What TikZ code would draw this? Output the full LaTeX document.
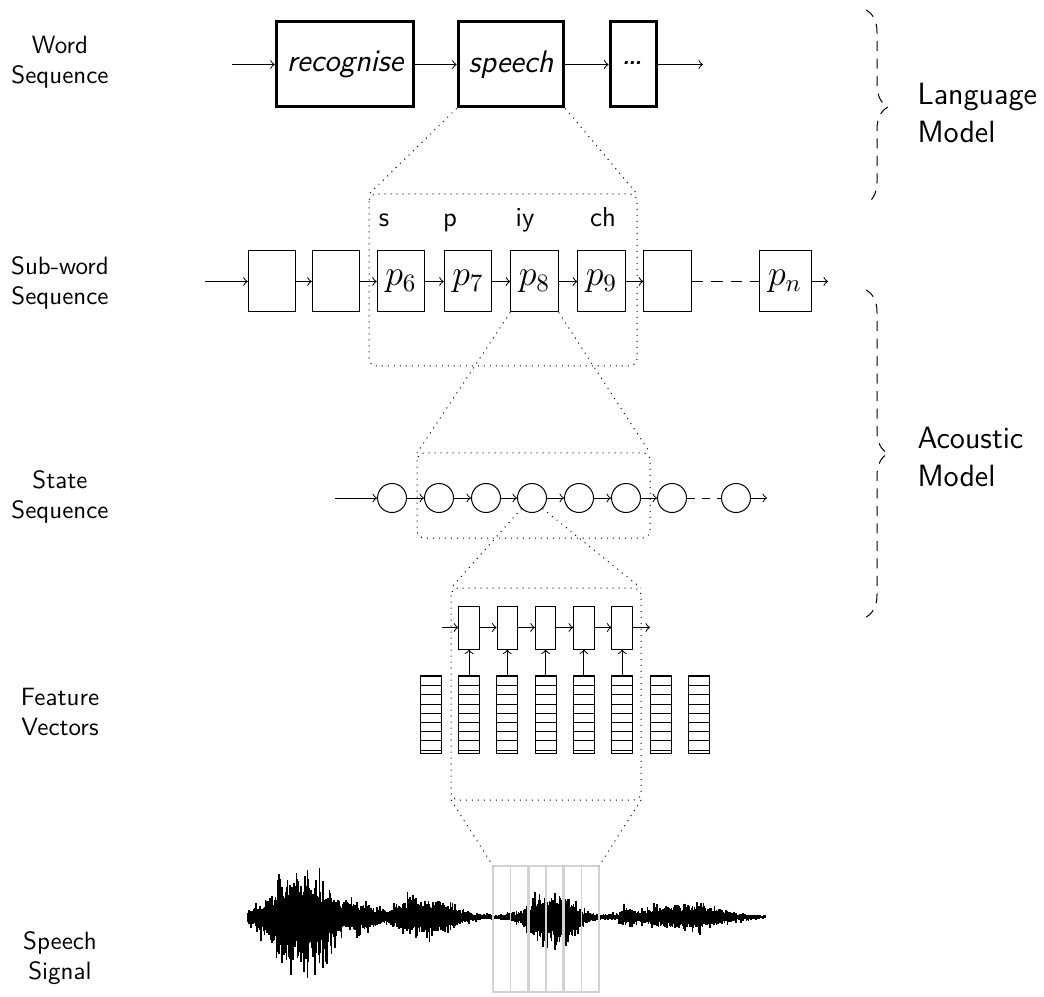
\documentclass[tikz,border=0pt]{standalone}
\usetikzlibrary{decorations.pathreplacing,calc}
\begin{document}
\begin{tikzpicture}[x=0.4pt,y=-0.4pt, font=\sffamily, >=to,
  wordbox/.style={draw, very thick, minimum height=34pt, inner xsep=4.2pt, font=\sffamily\fontsize{12.5}{15}\selectfont\itshape},
  subbox/.style={draw, minimum width=19pt, minimum height=24.4pt, inner sep=0pt, font=\Large},
  statenode/.style={draw, circle, minimum size=11.6pt, inner sep=0pt},
  cellbox/.style={draw, minimum width=8.2pt, minimum height=17.2pt, inner sep=0pt},
  fvec/.style={draw, minimum width=8.4pt, minimum height=31.2pt, inner sep=0pt},
  rowlabel/.style={align=center, font=\sffamily},
  modellabel/.style={align=left, anchor=west, inner sep=0pt, font=\sffamily\fontsize{12.3}{15.5}\selectfont},
  phone/.style={anchor=base, font=\sffamily\fontsize{11}{13}\selectfont},
  zoomline/.style={dotted},
  zoombox/.style={dotted, rounded corners=3pt},
  conn/.style={->},
  gapline/.style={dash pattern=on 4.5pt off 3.3pt},
  bracestyle/.style={decorate, decoration={brace, amplitude=8.8pt}, dash pattern=on 4pt off 3pt},
  win/.style={draw=gray!35, line width=0.5pt},
  wave/.style={line width=0.65pt},
]
\useasboundingbox (0,0) rectangle (1044,997);

% ---------- left labels
\node[rowlabel] (l1) at (60,62) {Word\\Sequence};
\node[rowlabel] (l2) at (60,283) {Sub-word\\Sequence};
\node[rowlabel] (l3) at (60,497) {State\\Sequence};
\node[rowlabel] (l4) at (60,712) {Feature\\Vectors};
\node[rowlabel] (l5) at (60,958) {Speech\\Signal};

% ---------- word sequence
\coordinate (w0) at (232,64.5);
\node[wordbox] (w1) at (345,64.5) {recognise};
\node[wordbox] (w2) at (511,64.5) {speech};
\node[wordbox, minimum width=18.4pt] (w3) at (633,64.5) {\raisebox{1.2pt}{\Large\dots}};
\coordinate (w4) at (703,64.5);
\draw[conn] (w0) -- (w1);
\draw[conn] (w1) -- (w2);
\draw[conn] (w2) -- (w3);
\draw[conn] (w3) -- (w4);

% ---------- sub-word sequence
\coordinate (s0) at (205,281.5);
\node[subbox] (s1) at (272,281.5) {};
\node[subbox] (s2) at (336,281.5) {};
\node[subbox] (s3) at (401,281.5) {$p_6$};
\node[subbox] (s4) at (468,281.5) {$p_7$};
\node[subbox] (s5) at (534.5,281.5) {$p_8$};
\node[subbox] (s6) at (601.5,281.5) {$p_9$};
\node[subbox] (s7) at (667.5,281.5) {};
\node[subbox, minimum width=20.8pt] (s8) at (785,281.5) {$p_n$};
\coordinate (s9) at (828,281.5);
\draw[conn] (s0) -- (s1);
\draw[conn] (s1) -- (s2);
\draw[conn] (s2) -- (s3);
\draw[conn] (s3) -- (s4);
\draw[conn] (s4) -- (s5);
\draw[conn] (s5) -- (s6);
\draw[conn] (s6) -- (s7);
\draw[gapline] (s7) -- (s8);
\draw[conn] (s8) -- (s9);

\node[phone] (ph1) at (384,227) {s};
\node[phone] (ph2) at (450,227) {p};
\node[phone] (ph3) at (525,227) {iy};
\node[phone] (ph4) at (603,227) {ch};

\coordinate (r1a) at (369,194);
\coordinate (r1b) at (637,366);
\draw[zoombox] (r1a) rectangle (r1b);
\draw[zoomline] (w2.south west) -- (r1a);
\draw[zoomline] (w2.south east) -- (r1b |- r1a);

% ---------- state sequence
\coordinate (t0) at (335,498);
\node[statenode] (t1) at (392,498) {};
\node[statenode] (t2) at (439,498) {};
\node[statenode] (t3) at (486,498) {};
\node[statenode] (t4) at (532,498) {};
\node[statenode] (t5) at (579,498) {};
\node[statenode] (t6) at (626,498) {};
\node[statenode] (t7) at (672,498) {};
\node[statenode] (t8) at (736,498) {};
\coordinate (t9) at (767,498);
\draw[conn] (t0) -- (t1);
\draw[conn] (t1) -- (t2);
\draw[conn] (t2) -- (t3);
\draw[conn] (t3) -- (t4);
\draw[conn] (t4) -- (t5);
\draw[conn] (t5) -- (t6);
\draw[conn] (t6) -- (t7);
\draw[dashed] (t7) -- (t8);
\draw[conn] (t8) -- (t9);

\coordinate (r2a) at (417,453);
\coordinate (r2b) at (650,538);
\draw[zoombox] (r2a) rectangle (r2b);
\draw[zoomline] (s5.south west) -- (r2a);
\draw[zoomline] (s5.south east) -- (r2b |- r2a);

% ---------- feature vectors
\coordinate (f0) at (442,627.5);
\node[cellbox] (f1) at (469,627.5) {};
\node[cellbox] (f2) at (507.3,627.5) {};
\node[cellbox] (f3) at (545.6,627.5) {};
\node[cellbox] (f4) at (583.9,627.5) {};
\node[cellbox] (f5) at (622.2,627.5) {};
\coordinate (f6) at (650,627.5);
\draw[conn] (f0) -- (f1);
\draw[conn] (f1) -- (f2);
\draw[conn] (f2) -- (f3);
\draw[conn] (f3) -- (f4);
\draw[conn] (f4) -- (f5);
\draw[conn] (f5) -- (f6);

\foreach \i/\x in {1/430.7,2/469,3/507.3,4/545.6,5/583.9,6/622.2,7/660.5,8/698.8} {
  \node[fvec] (v\i) at (\x,714) {};
  \foreach \d in {2,11.2,20.4,29.6,38.8,48,57.2,66.4,75.6}
    \draw ($(v\i.north west)+(0,\d)$) -- ($(v\i.north east)+(0,\d)$);
}
\draw[conn] (v2) -- (f1);
\draw[conn] (v3) -- (f2);
\draw[conn] (v4) -- (f3);
\draw[conn] (v5) -- (f4);
\draw[conn] (v6) -- (f5);

\coordinate (r3a) at (451,588);
\coordinate (r3b) at (641,800);
\draw[zoombox] (r3a) rectangle (r3b);
\draw[zoomline] (t4.south west) -- (r3a);
\draw[zoomline] (t4.south east) -- (r3b |- r3a);

% ---------- speech signal
\pgfmathsetseed{4242}
\foreach \x in {248,249.1,...,766} {
  \pgfmathsetmacro\bA{1/(1+min(abs(\x-254)/6,10)^4)}
  \pgfmathsetmacro\bB{1/(1+min(abs(\x-300)/31,10)^4)}
  \pgfmathsetmacro\bC{1/(1+min(abs(\x-357)/18,10)^4)}
  \pgfmathsetmacro\bD{1/(1+min(abs(\x-425)/32,10)^4)}
  \pgfmathsetmacro\bE{1/(1+min(abs(\x-552)/24,10)^4)}
  \pgfmathsetmacro\bF{1/(1+min(abs(\x-628)/8,10)^4)}
  \pgfmathsetmacro\bG{1/(1+min(abs(\x-685)/40,10)^4)}
  \pgfmathsetmacro\eu{1.5+3*\bA+38*\bB+10*\bC+17*\bD+22*\bE+6*\bF+11*\bG}
  \pgfmathsetmacro\ed{1.5+3*\bA+50*\bB+10*\bC+16*\bD+28*\bE+6*\bF+11*\bG}
  \pgfmathsetmacro\up{\eu*(0.45+0.4*rnd+0.7*rnd^5)}
  \pgfmathsetmacro\dn{\ed*(0.45+0.4*rnd+0.7*rnd^5)}
  \draw[wave] (\x,917-\up) -- (\x,917+\dn);
}
\foreach \x in {493,510.5,528,545.5,563}
  \draw[win] (\x,866) rectangle (\x+36,992);
\coordinate (r4a) at (493,866);
\coordinate (r4b) at (599,866);
\draw[zoomline] (r3a |- r3b) -- (r4a);
\draw[zoomline] (r3b) -- (r4b);

% ---------- braces
\coordinate (b1a) at (866,10);
\coordinate (b1b) at (866,204);
\coordinate (b2a) at (866,290);
\coordinate (b2b) at (866,617);
\draw[bracestyle] (b1a) -- (b1b);
\draw[bracestyle] (b2a) -- (b2b);
\node[modellabel] (m1) at (917,113) {Language\\Model};
\node[modellabel] (m2) at (917,457) {Acoustic\\Model};
\end{tikzpicture}
\end{document}
